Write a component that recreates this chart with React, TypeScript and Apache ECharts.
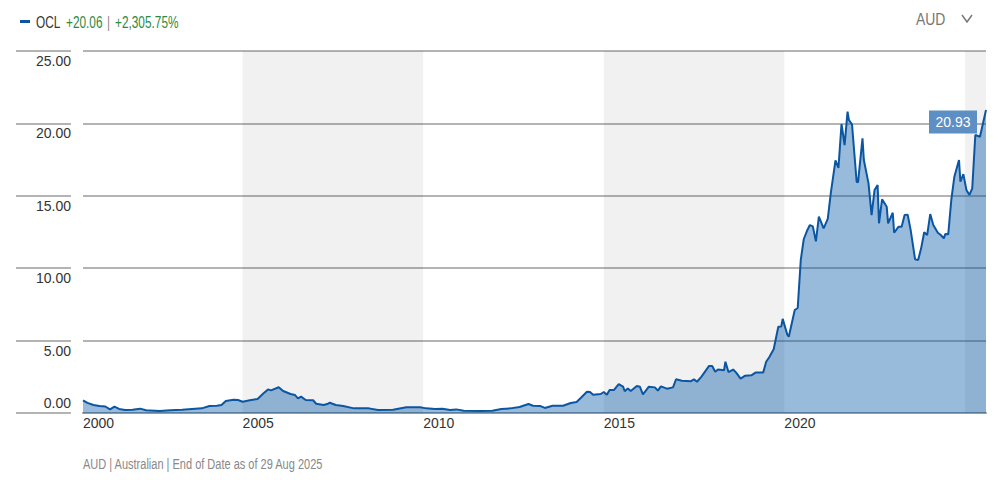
import React, { useEffect, useRef } from "react";
import * as echarts from "echarts";

// ---- data ----
const dates: string[] = [
  "2000-08-01","2000-09-15","2000-11-15","2001-01-15","2001-03-15","2001-05-01","2001-06-15","2001-08-01",
  "2001-10-01","2001-12-15","2002-03-01","2002-05-01","2002-09-15","2003-01-01","2003-05-01","2003-11-15",
  "2004-02-01","2004-04-15","2004-06-01","2004-07-15","2004-10-01","2004-11-15","2005-01-01","2005-03-15",
  "2005-06-01","2005-08-01","2005-09-15","2005-10-15","2006-01-01","2006-02-15","2006-05-01","2006-06-15",
  "2006-07-15","2006-08-15","2006-10-01","2006-12-15","2007-01-15","2007-04-01","2007-05-15","2007-06-01",
  "2007-08-01","2007-10-15","2008-02-01","2008-05-01","2008-07-01","2008-10-01","2009-03-01","2009-07-15",
  "2009-12-01","2010-02-01","2010-05-01","2010-07-15","2010-10-01","2010-12-01","2011-02-15","2011-08-01",
  "2011-12-01","2012-03-01","2012-06-01","2012-09-01","2012-12-01","2013-01-15","2013-04-01","2013-05-15",
  "2013-08-01","2013-11-15","2014-02-01","2014-04-01","2014-05-15","2014-07-15","2014-08-15","2014-09-15",
  "2014-12-01","2015-01-01","2015-02-01","2015-03-01","2015-04-15","2015-06-01","2015-07-15","2015-08-01",
  "2015-09-01","2015-10-01","2015-12-01","2016-01-01","2016-02-01","2016-04-01","2016-06-01","2016-07-01",
  "2016-08-01","2016-10-01","2016-12-01","2017-01-01","2017-03-01","2017-06-01","2017-07-01","2017-08-01",
  "2017-09-15","2017-12-01","2018-01-01","2018-02-01","2018-03-01","2018-05-01","2018-05-15","2018-06-15",
  "2018-08-01","2018-09-01","2018-10-15","2018-12-01","2019-02-01","2019-03-15","2019-06-01","2019-07-01",
  "2019-08-01","2019-09-15","2019-11-01","2019-12-01","2019-12-15","2020-02-01","2020-02-15","2020-04-15",
  "2020-05-15","2020-06-15","2020-07-15","2020-08-15","2020-09-15","2020-10-15","2020-11-15","2020-12-15",
  "2021-02-01","2021-03-15","2021-04-15","2021-06-01","2021-07-01","2021-08-01","2021-09-01","2021-10-01",
  "2021-10-15","2021-11-15","2022-01-01","2022-01-15","2022-03-01","2022-03-15","2022-05-01","2022-06-01",
  "2022-07-01","2022-08-01","2022-08-15","2022-09-15","2022-11-01","2022-11-15","2023-01-01","2023-01-15",
  "2023-03-01","2023-04-01","2023-05-01","2023-06-01","2023-07-01","2023-08-15","2023-09-15","2023-10-15",
  "2023-11-15","2023-12-15","2024-01-15","2024-02-15","2024-04-01","2024-05-01","2024-06-01","2024-06-15",
  "2024-07-15","2024-08-15","2024-09-15","2024-11-01","2024-11-15","2024-12-15","2025-01-15","2025-02-15",
  "2025-03-15","2025-04-15","2025-06-01","2025-08-01",
];
const prices: number[] = [
  0.87,0.70,0.55,0.48,0.45,0.25,0.44,0.28,
  0.21,0.23,0.30,0.19,0.14,0.19,0.23,0.32,
  0.48,0.50,0.55,0.83,0.92,0.90,0.78,0.88,
  0.97,1.36,1.63,1.56,1.78,1.52,1.31,1.24,
  1.01,1.13,0.90,0.88,0.64,0.55,0.64,0.71,
  0.55,0.48,0.32,0.32,0.32,0.21,0.23,0.39,
  0.39,0.32,0.28,0.29,0.21,0.25,0.16,0.14,
  0.16,0.28,0.32,0.41,0.62,0.50,0.48,0.35,
  0.50,0.50,0.69,0.76,1.05,1.47,1.45,1.26,
  1.31,1.45,1.26,1.59,1.59,2.00,1.82,1.50,
  1.70,1.52,1.86,1.82,1.29,1.82,1.77,1.54,
  1.84,1.68,1.77,2.33,2.23,2.20,2.32,2.16,
  2.51,3.25,3.25,2.85,3.00,2.95,3.54,2.83,
  3.00,2.79,2.37,2.58,2.60,2.79,2.79,3.54,
  3.85,4.40,5.96,5.98,6.50,5.39,5.27,7.11,
  7.25,10.57,12.00,12.55,12.98,12.89,11.85,13.56,
  12.75,13.40,15.20,17.45,16.92,19.96,18.50,20.81,
  20.23,19.94,15.97,15.93,18.97,17.47,15.86,13.67,
  15.40,15.75,13.10,14.76,14.25,13.10,13.83,12.45,
  12.87,12.87,13.67,13.70,12.64,10.61,10.57,11.37,
  12.48,12.29,13.74,12.98,12.45,12.29,12.06,12.36,
  12.34,14.71,16.32,17.47,15.97,16.50,15.40,15.06,
  15.52,19.20,19.08,20.93,
];
const xRange: string[] = ["2000-08-01", "2025-08-01"];
const yearTicks: string[] = ["2000-08-01", "2005-01-01", "2010-01-01", "2015-01-01", "2020-01-01"];
const shadedBands: string[][] = [
  ["2005-01-01", "2010-01-01"],
  ["2015-01-01", "2020-01-01"],
  ["2025-01-01", "2025-08-01"],
];
const yTicks = { min: 0, max: 25, interval: 5 };
const ticker = "OCL";
const changeAbs = "+20.06";
const changePct = "+2,305.75%";
const currency = "AUD";
const footer = "AUD | Australian | End of Date as of 29 Aug 2025";

const SANS = "'Liberation Sans', Arial, sans-serif";

export default function App() {
  const ref = useRef<HTMLDivElement>(null);
  useEffect(() => {
    if (!ref.current) return;
    const chart = echarts.init(ref.current, undefined, { renderer: "svg" });
    const t = (s: string) => echarts.number.parseDate(s).getTime();
    const data = dates.map((d, i) => [t(d), prices[i]]);
    const last = data[data.length - 1];
    const narrowText = (x: number, y: number, text: string, size: number, fill: string, sx: number) => ({
      type: "text",
      x,
      y,
      scaleX: sx,
      style: { text, fill, font: size + "px " + SANS, verticalAlign: "middle" },
    });

    chart.setOption({
      animation: false,
      grid: { left: 83, right: 16, top: 51, bottom: 67 },
      xAxis: {
        type: "value",
        min: t(xRange[0]),
        max: t(xRange[1]),
        axisLine: { show: true, onZero: false, lineStyle: { color: "#9a9a9a", width: 2 } },
        axisTick: { show: false },
        splitLine: { show: false },
        axisLabel: {
          customValues: yearTicks.map(t),
          formatter: (v: number) => String(new Date(v).getFullYear()),
          align: "left",
          color: "#333",
          fontSize: 14,
          fontFamily: SANS,
          margin: 3,
        },
      },
      yAxis: {
        type: "value",
        min: yTicks.min,
        max: yTicks.max,
        interval: yTicks.interval,
        position: "left",
        offset: 12,
        axisLine: { show: false },
        axisTick: { show: true, length: 55, lineStyle: { color: "#b4b4b4", width: 2 } },
        splitLine: { show: true, lineStyle: { color: "#b4b4b4", width: 2 } },
        axisLabel: {
          margin: 0,
          align: "right",
          color: "#333",
          fontSize: 14,
          fontFamily: SANS,
          formatter: (v: number) => (v === 0 ? "{up|" + v.toFixed(2) + "}" : "{dn|" + v.toFixed(2) + "}"),
          rich: {
            up: { padding: [0, 0, 20, 0], fontSize: 14, color: "#333", fontFamily: SANS },
            dn: { padding: [20, 0, 0, 0], fontSize: 14, color: "#333", fontFamily: SANS },
          },
        },
      },
      series: [
        {
          type: "line",
          name: ticker,
          data,
          showSymbol: false,
          symbol: "none",
          lineStyle: { color: "#0b56a3", width: 2 },
          itemStyle: { color: "#0b56a3" },
          areaStyle: { color: "rgba(0,84,166,0.4)", opacity: 1 },
          z: 2,
          markArea: {
            silent: true,
            itemStyle: { color: "rgba(0,0,0,0.055)" },
            data: shadedBands.map((b) => [{ xAxis: t(b[0]) }, { xAxis: t(b[1]) }]),
          },
          markPoint: {
            silent: true,
            data: [
              {
                coord: last,
                value: last[1],
                symbol: "rect",
                symbolSize: [48, 23],
                symbolOffset: [-33, 12],
                itemStyle: { color: "#5d8fc4" },
                label: {
                  show: true,
                  position: "inside",
                  formatter: () => (last[1] as number).toFixed(2),
                  color: "#fff",
                  fontSize: 14,
                  fontFamily: SANS,
                },
              },
            ],
          },
        },
      ],
      graphic: [
        { type: "rect", shape: { x: 20, y: 20, width: 10, height: 3 }, style: { fill: "#0b56a3" } },
        narrowText(36, 22, ticker, 16, "#333", 0.74),
        narrowText(66, 22, changeAbs, 16, "#2c8a43", 0.74),
        narrowText(107, 22, "|", 16, "#888", 0.74),
        narrowText(115, 22, changePct, 16, "#2c8a43", 0.74),
        narrowText(916, 19, currency, 17, "#777", 0.82),
        { type: "polyline", shape: { points: [[962, 15], [967, 22], [972, 15]] }, style: { stroke: "#777", lineWidth: 1.5, fill: null } },
        narrowText(83, 464, footer, 14.5, "#888", 0.76),
      ],
    });
    return () => chart.dispose();
  }, []);
  return <div ref={ref} style={{ position: "absolute", left: 0, top: 0, width: 1002, height: 480 }} />;
}
